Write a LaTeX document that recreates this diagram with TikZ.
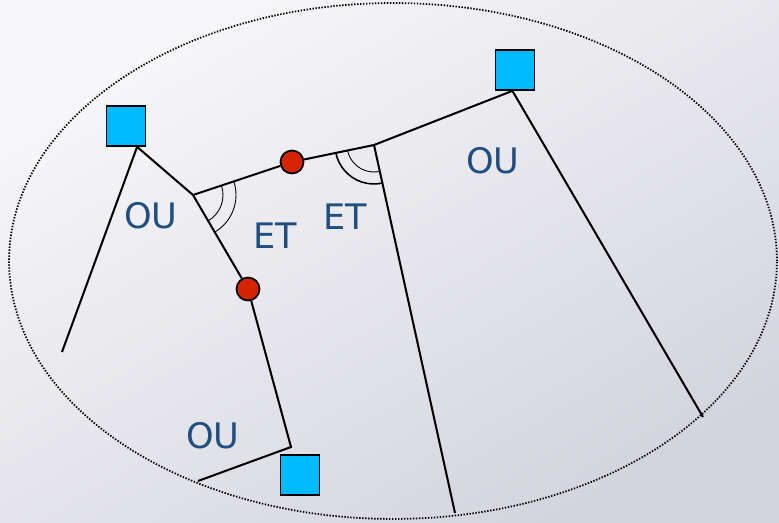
\documentclass[tikz,border=0pt]{standalone}
\usepackage{fontspec}
\setmainfont{DejaVu Sans}
\usetikzlibrary{angles}
\definecolor{sitecyan}{RGB}{0,187,255}
\definecolor{relayred}{RGB}{214,36,0}
\definecolor{lblblue}{RGB}{31,78,128}
\definecolor{bgtop}{RGB}{247,247,249}
\definecolor{bgbot}{RGB}{212,212,222}
\tikzset{
  site/.style={draw=black, line width=1pt, fill=sitecyan, minimum width=0.78cm, minimum height=0.8cm, inner sep=0pt},
  relay/.style={circle, draw=black, line width=1pt, fill=relayred, minimum size=0.46cm, inner sep=0pt},
  link/.style={line width=1.15pt},
  lbl/.style={text=lblblue, font=\fontsize{20}{24}\selectfont, inner sep=0pt}
}

\begin{document}
\begin{tikzpicture}[x=0.02cm, y=-0.02cm]
    \useasboundingbox (0,0) rectangle (779,523);
    \shade[top color=bgtop, bottom color=bgbot, shading angle=30] (0,0) rectangle (779,523);
    \draw[line width=1pt, dash pattern=on 0.8pt off 0.9pt] (393,261) ellipse [x radius=7.68cm, y radius=5.16cm];

    % sites and relays
    \node[site] (tl) at (126,126) {};
    \node[site] (tr) at (515,70) {};
    \node[site] (bt) at (300,475) {};
    \node[relay] (r1) at (292,162) {};
    \node[relay] (r2) at (248,289) {};
    \coordinate (j1) at (193,195);
    \coordinate (j2) at (374,145);
    \coordinate (j3) at (291,447);
    \coordinate (e1) at (62,352);
    \coordinate (e2) at (198,481);
    \coordinate (e3) at (455,513);
    \coordinate (e4) at (703,417);

    % links
    \draw[link] (tl.-62) -- (e1);
    \draw[link] (tl.-62) -- (j1) -- (r2) -- (j3) -- (e2);
    \draw[link] (j1) -- (r1) -- (j2) -- (tr.-97);
    \draw[link] (tr.-97) -- (e4);
    \draw[link] (j2) -- (e3);

    % angles
    \pic[draw, line width=0.5pt, angle radius=0.6cm] {angle=r2--j1--r1};
    \pic[draw, line width=0.5pt, angle radius=0.86cm] {angle=r2--j1--r1};
    \pic[draw, line width=0.5pt, angle radius=0.54cm] {angle=r1--j2--e3};
    \pic[draw, line width=0.9pt, angle radius=0.78cm] {angle=r1--j2--e3};

    % labels
    \node[lbl] (ou1) at (151,216) {OU};
    \node[lbl] (et1) at (275,236) {ET};
    \node[lbl] (et2) at (345,217) {ET};
    \node[lbl] (ou2) at (493,161) {OU};
    \node[lbl] (ou3) at (213,436) {OU};
\end{tikzpicture}
\end{document}
